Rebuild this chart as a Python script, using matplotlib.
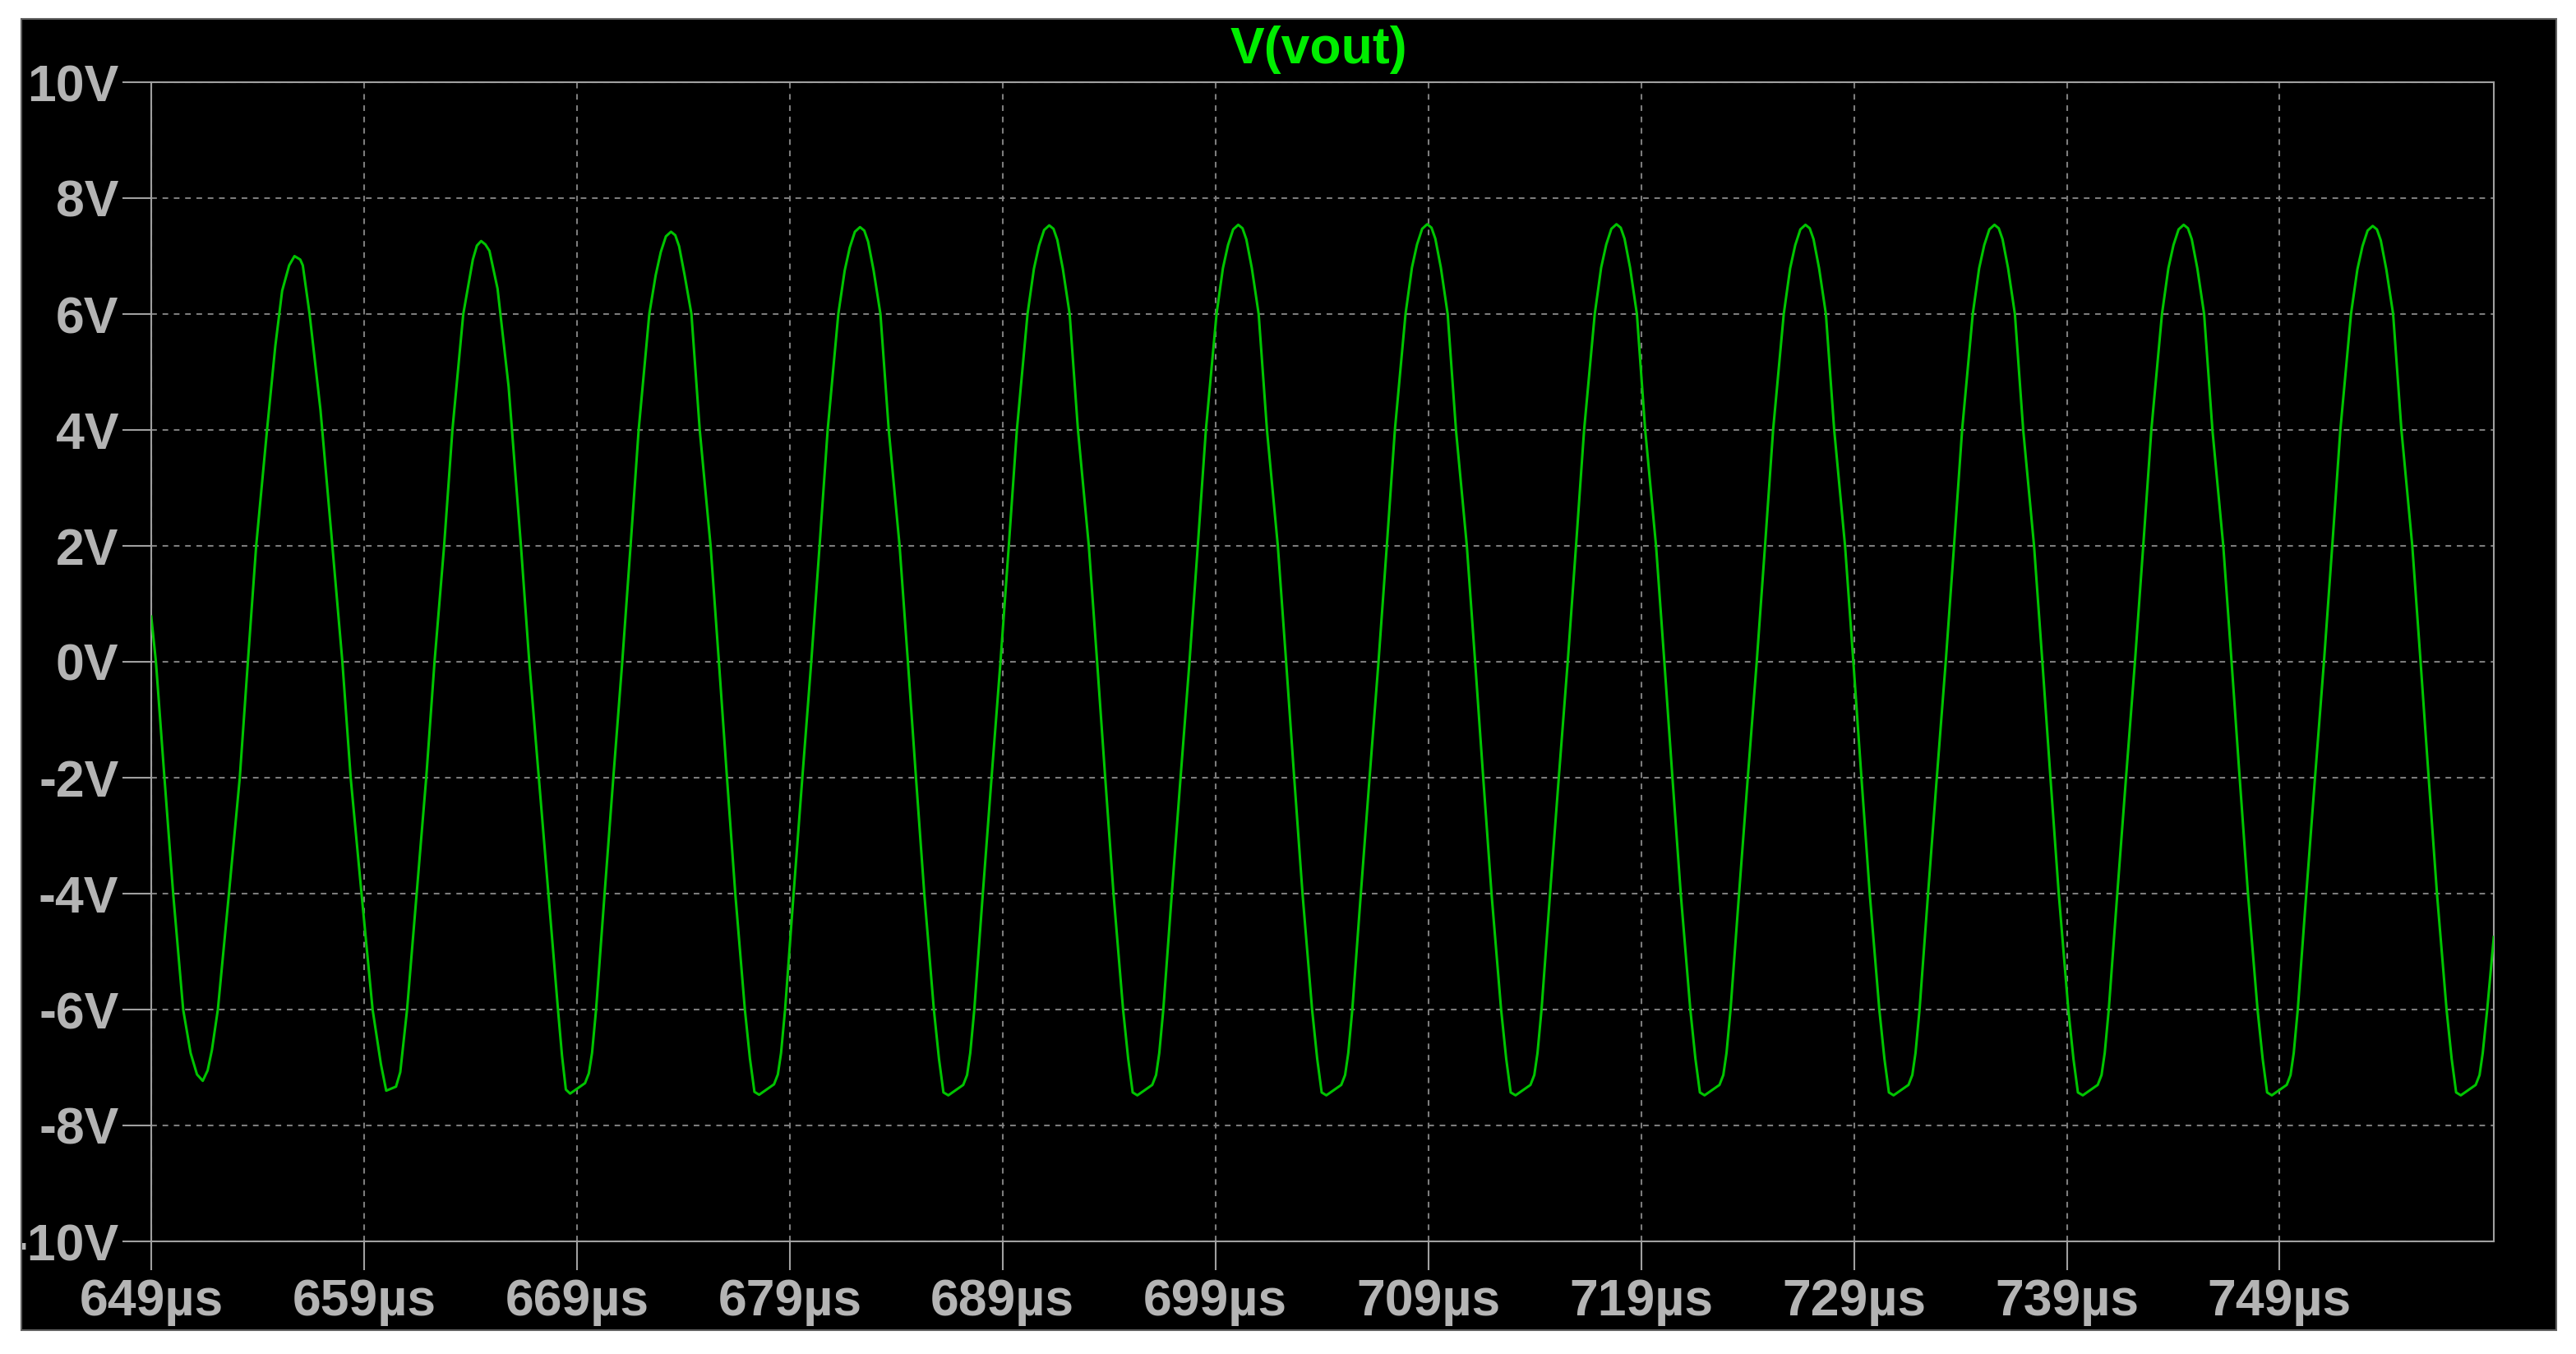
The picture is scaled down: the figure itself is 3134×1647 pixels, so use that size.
import matplotlib.pyplot as plt
from matplotlib.patches import Rectangle

plt.rcParams['font.family'] = ['Liberation Sans', 'DejaVu Sans']

# V(vout) trace (time in us, volts)
t_start = [649.0, 649.22, 649.62, 650.03, 650.5, 650.85, 651.15, 651.42, 651.65, 651.85,
           652.13, 652.65, 653.16, 653.54, 653.93, 654.44, 654.83, 655.15, 655.48, 655.73,
           656.0, 656.12, 656.44, 656.95, 657.47, 657.98, 658.37, 658.88, 659.4, 659.79,
           660.04, 660.5, 660.7, 661.02, 661.47, 661.92, 662.31, 662.76, 663.15, 663.66,
           664.11, 664.3, 664.5, 664.7, 664.89, 665.27, 665.79, 666.37, 666.76, 667.21,
           667.66, 668.11, 668.3, 668.48]
v_start = [0.78, 0.0, -2.0, -4.0, -6.0, -6.75, -7.12, -7.23, -7.05, -6.7,
           -6.0, -4.0, -2.0, 0.0, 2.0, 4.0, 5.45, 6.4, 6.84, 7.0,
           6.94, 6.84, 6.0, 4.35, 2.17, 0.0, -2.0, -4.0, -6.0, -6.94,
           -7.4, -7.33, -7.08, -6.0, -4.0, -2.0, 0.0, 2.0, 4.0, 6.0,
           6.94, 7.18, 7.26, 7.2, 7.09, 6.44, 4.75, 2.0, 0.0, -2.0,
           -4.0, -6.0, -6.8, -7.38]

t_c3 = [668.68, 669.38, 669.56, 669.71, 669.90, 670.30, 670.71, 671.13, 671.52, 671.90, 672.40, 672.70, 672.94, 673.18,
        673.42, 673.62, 673.80, 674.06, 674.38, 674.77, 675.28, 675.67, 676.05, 676.44, 676.89, 677.13, 677.34]
v_c3 = [-7.45, -7.27, -7.10, -6.75, -6.0, -4.0, -2.0, 0.0, 2.0, 4.0, 6.0, 6.67, 7.07, 7.34,
        7.42, 7.36, 7.17, 6.67, 6.0, 4.0, 2.0, 0.0, -2.0, -4.0, -6.0, -6.85, -7.42]
t_c4 = [677.56, 678.26, 678.44, 678.59, 678.78, 679.18, 679.59, 680.01, 680.40, 680.78, 681.28, 681.58, 681.82, 682.06,
        682.30, 682.50, 682.68, 682.94, 683.26, 683.65, 684.16, 684.55, 684.93, 685.32, 685.77, 686.01, 686.22]
v_c4 = [-7.47, -7.29, -7.12, -6.75, -6.0, -4.0, -2.0, 0.0, 2.0, 4.0, 6.0, 6.75, 7.15, 7.42,
        7.50, 7.44, 7.25, 6.75, 6.0, 4.0, 2.0, 0.0, -2.0, -4.0, -6.0, -6.85, -7.43]
t_c5 = [686.45, 687.15, 687.33, 687.48, 687.67, 688.07, 688.48, 688.90, 689.29, 689.67, 690.17, 690.47, 690.71, 690.95,
        691.19, 691.39, 691.57, 691.83, 692.15, 692.54, 693.05, 693.44, 693.82, 694.21, 694.66, 694.90, 695.11]
v_c5 = [-7.48, -7.30, -7.13, -6.75, -6.0, -4.0, -2.0, 0.0, 2.0, 4.0, 6.0, 6.78, 7.18, 7.45,
        7.53, 7.47, 7.28, 6.78, 6.0, 4.0, 2.0, 0.0, -2.0, -4.0, -6.0, -6.85, -7.43]
t_c6 = [695.33, 696.03, 696.21, 696.36, 696.55, 696.95, 697.36, 697.78, 698.17, 698.55, 699.05, 699.35, 699.59, 699.83,
        700.07, 700.27, 700.45, 700.71, 701.03, 701.42, 701.93, 702.32, 702.70, 703.09, 703.54, 703.78, 703.99]
v_c6 = [-7.48, -7.30, -7.13, -6.75, -6.0, -4.0, -2.0, 0.0, 2.0, 4.0, 6.0, 6.79, 7.19, 7.46,
        7.54, 7.48, 7.29, 6.79, 6.0, 4.0, 2.0, 0.0, -2.0, -4.0, -6.0, -6.85, -7.43]
t_c7 = [704.21, 704.91, 705.09, 705.24, 705.43, 705.83, 706.24, 706.66, 707.05, 707.43, 707.93, 708.23, 708.47, 708.71,
        708.95, 709.15, 709.33, 709.59, 709.91, 710.30, 710.81, 711.20, 711.58, 711.97, 712.42, 712.66, 712.87]
v_c7 = [-7.48, -7.30, -7.13, -6.75, -6.0, -4.0, -2.0, 0.0, 2.0, 4.0, 6.0, 6.80, 7.20, 7.47,
        7.55, 7.49, 7.30, 6.80, 6.0, 4.0, 2.0, 0.0, -2.0, -4.0, -6.0, -6.85, -7.43]
t_c8 = [713.10, 713.80, 713.98, 714.13, 714.32, 714.72, 715.13, 715.55, 715.94, 716.32, 716.82, 717.12, 717.36, 717.60,
        717.84, 718.04, 718.22, 718.48, 718.80, 719.19, 719.70, 720.09, 720.47, 720.86, 721.31, 721.55, 721.76]
v_c8 = [-7.48, -7.30, -7.13, -6.75, -6.0, -4.0, -2.0, 0.0, 2.0, 4.0, 6.0, 6.80, 7.20, 7.47,
        7.55, 7.49, 7.30, 6.80, 6.0, 4.0, 2.0, 0.0, -2.0, -4.0, -6.0, -6.85, -7.43]
t_c9 = [721.98, 722.68, 722.86, 723.01, 723.20, 723.60, 724.01, 724.43, 724.82, 725.20, 725.70, 726.00, 726.24, 726.48,
        726.72, 726.92, 727.10, 727.36, 727.68, 728.07, 728.58, 728.97, 729.35, 729.74, 730.19, 730.43, 730.64]
v_c9 = [-7.48, -7.30, -7.13, -6.75, -6.0, -4.0, -2.0, 0.0, 2.0, 4.0, 6.0, 6.79, 7.19, 7.46,
        7.54, 7.48, 7.29, 6.79, 6.0, 4.0, 2.0, 0.0, -2.0, -4.0, -6.0, -6.85, -7.43]
t_c10 = [730.86, 731.56, 731.74, 731.89, 732.08, 732.48, 732.89, 733.31, 733.70, 734.08, 734.58, 734.88, 735.12, 735.36,
         735.60, 735.80, 735.98, 736.24, 736.56, 736.95, 737.46, 737.85, 738.23, 738.62, 739.07, 739.31, 739.52]
v_c10 = [-7.48, -7.30, -7.13, -6.75, -6.0, -4.0, -2.0, 0.0, 2.0, 4.0, 6.0, 6.79, 7.19, 7.46,
         7.54, 7.48, 7.29, 6.79, 6.0, 4.0, 2.0, 0.0, -2.0, -4.0, -6.0, -6.85, -7.43]
t_c11 = [739.75, 740.45, 740.63, 740.78, 740.97, 741.37, 741.78, 742.20, 742.59, 742.97, 743.47, 743.77, 744.01, 744.25,
         744.49, 744.69, 744.87, 745.13, 745.45, 745.84, 746.35, 746.74, 747.12, 747.51, 747.96, 748.20, 748.41]
v_c11 = [-7.48, -7.30, -7.13, -6.75, -6.0, -4.0, -2.0, 0.0, 2.0, 4.0, 6.0, 6.79, 7.19, 7.46,
         7.54, 7.48, 7.29, 6.79, 6.0, 4.0, 2.0, 0.0, -2.0, -4.0, -6.0, -6.85, -7.43]
t_c12 = [748.63, 749.33, 749.51, 749.66, 749.85, 750.25, 750.66, 751.08, 751.47, 751.85, 752.35, 752.65, 752.89, 753.13,
         753.37, 753.57, 753.75, 754.01, 754.33, 754.72, 755.23, 755.62, 756.00, 756.39, 756.84, 757.08, 757.29]
v_c12 = [-7.48, -7.30, -7.13, -6.75, -6.0, -4.0, -2.0, 0.0, 2.0, 4.0, 6.0, 6.77, 7.17, 7.44,
         7.52, 7.46, 7.27, 6.77, 6.0, 4.0, 2.0, 0.0, -2.0, -4.0, -6.0, -6.85, -7.43]
t_end = [757.51, 758.21, 758.39, 758.54, 758.75, 759.06]
v_end = [-7.48, -7.30, -7.13, -6.75, -6.0, -4.75]

t_us = (t_start + t_c3 + t_c4 + t_c5 + t_c6 + t_c7 + t_c8 + t_c9 + t_c10 + t_c11 + t_c12 + t_end)
v_out = (v_start + v_c3 + v_c4 + v_c5 + v_c6 + v_c7 + v_c8 + v_c9 + v_c10 + v_c11 + v_c12 + v_end)

xticks = [649, 659, 669, 679, 689, 699, 709, 719, 729, 739, 749]
xlabels = ['%d\u00b5s' % x for x in xticks]
yticks = [10, 8, 6, 4, 2, 0, -2, -4, -6, -8, -10]
ylabels = ['%dV' % y for y in yticks]

W, H = 3134, 1647
fig = plt.figure(figsize=(W / 100, H / 100), dpi=100)
fig.patch.set_facecolor('white')
# black plot window
fig.add_artist(Rectangle((26 / W, 1 - 1618 / H), (3110 - 26) / W, (1618 - 23) / H,
                         transform=fig.transFigure, facecolor='black', edgecolor='none', zorder=-1))

ax = fig.add_axes([184 / W, 1 - 1510 / H, 2850 / W, 1410 / H])
ax.set_facecolor('black')
ax.plot(t_us, v_out, color='#00c400', lw=2.2, zorder=3)

ax.set_xlim(649, 759.06)
ax.set_ylim(-10, 10)
ax.set_xticks(xticks)
ax.set_xticklabels(xlabels)
ax.set_yticks(yticks)
ax.set_yticklabels(ylabels)

for lab in ax.get_xticklabels() + ax.get_yticklabels():
    lab.set_fontweight('bold')
ax.tick_params(axis='both', colors='#a0a0a0', labelcolor='#b4b4b4', length=25, width=1.5, labelsize=45)
ax.tick_params(axis='y', pad=3.5)
ax.tick_params(axis='x', pad=7)
for s in ax.spines.values():
    s.set_color('#a0a0a0')
    s.set_linewidth(1.5)

ax.grid(True, color='#7c7c7c', lw=1.5, linestyle=(0, (3.3, 3.3)))
ax.set_axisbelow(True)

ax.annotate('V(vout)', xy=(0.5, 1.0), xycoords='axes fraction', xytext=(-3, 16.5),
            textcoords='offset points', ha='center', va='baseline',
            color='#00ee00', fontsize=45, fontweight='bold')

# window border crop and frame
for r in [(0, 0, 26, H), (3110, 0, W - 3110, H), (0, 0, W, 23), (0, 1618, W, H - 1618)]:
    fig.add_artist(Rectangle((r[0] / W, 1 - (r[1] + r[3]) / H), r[2] / W, r[3] / H,
                             transform=fig.transFigure, facecolor='white', edgecolor='none', zorder=20))
fig.add_artist(Rectangle((26 / W, 1 - 1618 / H), (3110 - 26) / W, (1618 - 23) / H,
                         transform=fig.transFigure, facecolor='none', edgecolor='#606060', lw=1.5, zorder=21))

fig.savefig('out.png', dpi=100, facecolor='white')
